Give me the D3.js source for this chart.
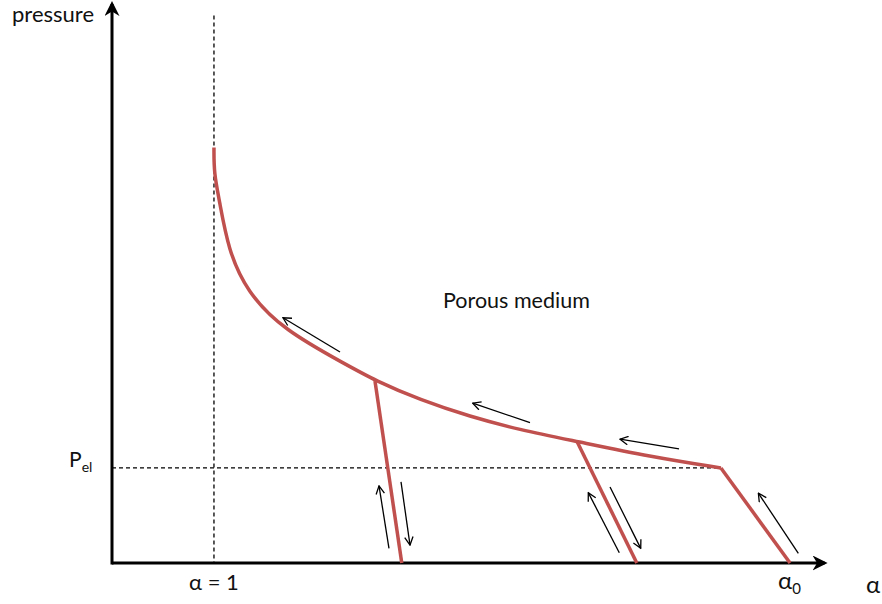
<!DOCTYPE html>
<html>
<head>
<meta charset="utf-8">
<script src="https://cdn.jsdelivr.net/npm/d3@7"></script>
<style>
  body { margin: 0; background: #fff; }
  text { font-family: Lato, "Open Sans", sans-serif; fill: #111; }
</style>
</head>
<body>
<svg width="882" height="604"></svg>
<script>
// alpha = 1 is the solid state, alpha0 the initial porosity, pressure in units of P_el
const alphaOne = 1.0;
const alpha0 = 2.0;
const pEl = 1.0;

// compaction curve (plastic loading), alpha decreasing -> pressure rising
const curveAlpha = [1.0, 1.0, 1.0092, 1.0248, 1.0568, 1.1203, 1.2304, 1.2795, 1.3576, 1.4444, 1.5313, 1.6302, 1.7569, 1.88, 1.88];
const curveP     = [4.37, 4.10, 3.821, 3.295, 2.856, 2.453, 2.084, 1.92, 1.716, 1.540, 1.400, 1.279, 1.119, 1.0, 1.0];

// elastic loading from alpha0 up to P_el
const elasticAlpha = [1.88, alpha0];
const elasticP = [pEl, 0];

// elastic unloading / reloading lines
const unloads = [
  { a: [1.2795, 1.326], p: [1.915, 0] },
  { a: [1.6302, 1.734], p: [1.279, 0] }
];

// direction arrows [alpha start, p start, alpha end, p end]
const arrows = [
  [1.2188, 2.22, 1.1198, 2.58],
  [1.5486, 1.477, 1.4491, 1.681],
  [1.8073, 1.200, 1.7049, 1.302],
  [1.3038, 0.154, 1.2865, 0.811],
  [1.3247, 0.853, 1.3403, 0.189],
  [1.7036, 0.108, 1.6498, 0.740],
  [1.6875, 0.800, 1.7408, 0.154],
  [2.0144, 0.102, 1.9450, 0.734]
];

const svg = d3.select("svg");

const x = d3.scaleLinear().domain([0.823, 2.052]).range([112, 820]);
const y = d3.scaleLinear().domain([0, 5.87]).range([563, 5]);

const defs = svg.append("defs");
defs.append("marker")
    .attr("id", "axhead")
    .attr("viewBox", "0 0 10 10")
    .attr("refX", 8).attr("refY", 5)
    .attr("markerWidth", 5).attr("markerHeight", 5)
    .attr("markerUnits", "strokeWidth")
    .attr("orient", "auto")
  .append("path")
    .attr("d", "M0,0 L10,5 L0,10 L3,5 Z")
    .attr("fill", "#000");
defs.append("marker")
    .attr("id", "openhead")
    .attr("viewBox", "0 0 10 10")
    .attr("refX", 9).attr("refY", 5)
    .attr("markerWidth", 10).attr("markerHeight", 10)
    .attr("markerUnits", "userSpaceOnUse")
    .attr("orient", "auto")
  .append("path")
    .attr("d", "M1,0.8 L9,5 L1,9.2")
    .attr("fill", "none")
    .attr("stroke", "#000")
    .attr("stroke-width", 1.3);

// dashed guides
svg.append("line")
    .attr("x1", x(alphaOne)).attr("x2", x(alphaOne))
    .attr("y1", y(5.76)).attr("y2", y(0))
    .attr("stroke", "#000").attr("stroke-width", 1.3)
    .attr("stroke-dasharray", "4,3");
svg.append("line")
    .attr("x1", x(0.823)).attr("x2", x(1.88))
    .attr("y1", y(pEl)).attr("y2", y(pEl))
    .attr("stroke", "#000").attr("stroke-width", 1.3)
    .attr("stroke-dasharray", "4,3");

// axes
svg.append("line")
    .attr("x1", x(0.823)).attr("y1", y(0))
    .attr("x2", x(2.06)).attr("y2", y(0))
    .attr("stroke", "#000").attr("stroke-width", 3)
    .attr("marker-end", "url(#axhead)");
svg.append("line")
    .attr("x1", x(0.823)).attr("y1", y(0) + 1.5)
    .attr("x2", x(0.823)).attr("y2", y(5.88))
    .attr("stroke", "#000").attr("stroke-width", 3)
    .attr("marker-end", "url(#axhead)");

const red = "#c0504d";
const line = d3.line().x(d => x(d[0])).y(d => y(d[1]));

svg.append("path")
    .datum(d3.zip(curveAlpha, curveP))
    .attr("d", line.curve(d3.curveBasis))
    .attr("fill", "none").attr("stroke", red).attr("stroke-width", 3.5)
    .attr("stroke-linejoin", "round");

line.curve(d3.curveLinear);
svg.append("path")
    .datum(d3.zip(elasticAlpha, elasticP))
    .attr("d", line)
    .attr("fill", "none").attr("stroke", red).attr("stroke-width", 3.5);

svg.selectAll(".unload")
  .data(unloads)
  .join("path")
    .attr("class", "unload")
    .attr("d", d => line(d3.zip(d.a, d.p)))
    .attr("fill", "none").attr("stroke", red).attr("stroke-width", 3.5);

svg.selectAll(".arrow")
  .data(arrows)
  .join("line")
    .attr("class", "arrow")
    .attr("x1", d => x(d[0])).attr("y1", d => y(d[1]))
    .attr("x2", d => x(d[2])).attr("y2", d => y(d[3]))
    .attr("stroke", "#000").attr("stroke-width", 1.3)
    .attr("marker-end", "url(#openhead)");

// labels
svg.append("text").attr("x", 12).attr("y", 22)
    .attr("font-size", 22).text("pressure");

svg.append("text").attr("x", 443).attr("y", 308)
    .attr("font-size", 21.5).text("Porous medium");

const pl = svg.append("text").attr("x", 69).attr("y", y(pEl) - 1)
    .attr("font-size", 21);
pl.append("tspan").text("P");
pl.append("tspan").attr("font-size", 14).attr("dy", 5).text("el");

svg.append("text").attr("x", x(alphaOne)).attr("y", 590)
    .attr("text-anchor", "middle").attr("font-size", 22).text("α = 1");

const a0 = svg.append("text").attr("x", x(alpha0) - 12).attr("y", 589)
    .attr("font-size", 24);
a0.append("tspan").text("α");
a0.append("tspan").attr("font-size", 15).attr("dy", 5).text("0");

svg.append("text").attr("x", 866).attr("y", 593)
    .attr("font-size", 24).text("α");
</script>
</body>
</html>
